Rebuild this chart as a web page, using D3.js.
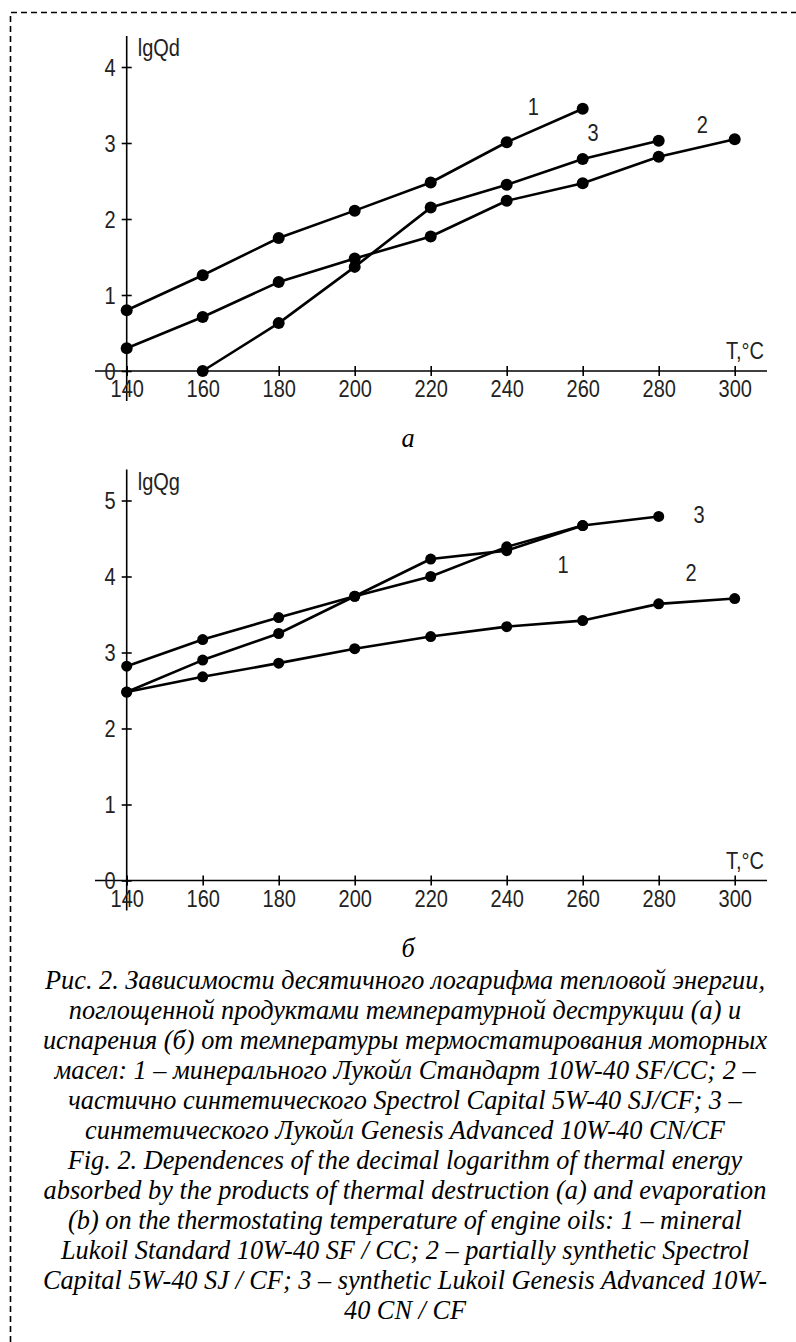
<!DOCTYPE html>
<html>
<head>
<meta charset="utf-8">
<script src="https://cdn.jsdelivr.net/npm/d3@7"></script>
<style>
body { margin: 0; background: #fff; }
.tick text, .lbl { font-family: "Liberation Sans", Arial, sans-serif; font-size: 20px; fill: #222; }
.cap { font-family: "Liberation Serif", "Times New Roman", serif; font-style: italic; font-size: 26.3px; fill: #000; }
</style>
</head>
<body>
<div id="chart"></div>
<script>
var width = 796;
var height = 1342;

// temperatures, deg C
var temps = [140, 160, 180, 200, 220, 240, 260, 280, 300];

// (a) lgQd - thermal destruction
var qd_mineral = [0.80, 1.26, 1.75, 2.11, 2.48, 3.01, 3.45];          // 140..260
var qd_semisynth = [0.30, 0.71, 1.17, 1.48, 1.77, 2.24, 2.47, 2.82, 3.05]; // 140..300
var qd_synth = [0.00, 0.63, 1.37, 2.15, 2.45, 2.79, 3.03];            // 160..280

// (b) lgQg - evaporation
var qg_mineral = [2.48, 2.90, 3.25, 3.74, 4.23, 4.34, 4.67];          // 140..260
var qg_semisynth = [2.48, 2.68, 2.86, 3.05, 3.21, 3.34, 3.42, 3.64, 3.71]; // 140..300
var qg_synth = [2.82, 3.17, 3.46, 3.74, 4.00, 4.39, 4.67, 4.79];      // 140..280

var xTicks = [140, 160, 180, 200, 220, 240, 260, 280, 300];
var yTicksA = [0, 1, 2, 3, 4];
var yTicksB = [0, 1, 2, 3, 4, 5];

// curve number labels, in data units [T, value, text]
var labelsA = [[247, 3.47, "1"], [291.5, 3.24, "2"], [262.7, 3.13, "3"]];
var labelsB = [[254.8, 4.15, "1"], [288.5, 4.05, "2"], [290.6, 4.81, "3"]];

var captionLines = [
  "Рис. 2. Зависимости десятичного логарифма тепловой энергии,",
  "поглощенной продуктами температурной деструкции (а) и",
  "испарения (б) от температуры термостатирования моторных",
  "масел: 1 – минерального Лукойл Стандарт 10W-40 SF/CC; 2 –",
  "частично синтетического Spectrol Capital 5W-40 SJ/CF; 3 –",
  "синтетического Лукойл Genesis Advanced 10W-40 CN/CF",
  "Fig. 2. Dependences of the decimal logarithm of thermal energy",
  "absorbed by the products of thermal destruction (a) and evaporation",
  "(b) on the thermostating temperature of engine oils: 1 – mineral",
  "Lukoil Standard 10W-40 SF / CC; 2 – partially synthetic Spectrol",
  "Capital 5W-40 SJ / CF; 3 – synthetic Lukoil Genesis Advanced 10W-",
  "40 CN / CF"
];

var stretch = 1.15; // screen font of the original is taller than Arial

var svg = d3.select("div#chart").append("svg")
  .attr("width", width)
  .attr("height", height);

// dashed frame (left + top edge only visible)
svg.append("path")
  .attr("d", "M10.5," + height + "V12.5H" + width)
  .attr("fill", "none")
  .attr("stroke", "#000")
  .attr("stroke-width", 1.6)
  .attr("stroke-dasharray", "6,4");

function series(vals, startT) {
  var i0 = temps.indexOf(startT);
  return vals.map(function(v, i) { return { t: temps[i0 + i], v: v }; });
}

function tallText(sel, x, y) {
  // draw text stretched vertically around its own baseline
  sel.attr("transform", "translate(" + x + "," + y + ") scale(1," + stretch + ")")
    .attr("x", 0).attr("y", 0);
}

function drawPanel(opt) {
  var x = d3.scaleLinear().domain([140, 300]).range([126.7, 734.7]);
  var y = d3.scaleLinear().domain([0, opt.ymax]).range([opt.y0, opt.y0 - 76 * opt.ymax]);
  var g = svg.append("g");

  // axis lines
  g.append("line")
    .attr("x1", 95).attr("x2", 767)
    .attr("y1", opt.y0).attr("y2", opt.y0)
    .attr("stroke", "#000").attr("stroke-width", 1.6);
  g.append("line")
    .attr("x1", x(140)).attr("x2", x(140))
    .attr("y1", y(opt.ymax) - 31).attr("y2", opt.y0 + 30)
    .attr("stroke", "#000").attr("stroke-width", 1.6);

  var gx = g.append("g")
    .attr("transform", "translate(0," + opt.y0 + ")")
    .call(d3.axisBottom(x).tickValues(xTicks).tickSize(5).tickFormat(d3.format("d")));
  gx.select(".domain").remove();
  gx.selectAll(".tick line").attr("y1", -5).attr("y2", 5).attr("stroke-width", 1.6);
  gx.selectAll(".tick text")
    .attr("font-size", null).attr("font-family", null).attr("fill", null)
    .attr("dy", null)
    .each(function() { tallText(d3.select(this), 0, 26); });

  var gy = g.append("g")
    .attr("transform", "translate(" + x(140) + ",0)")
    .call(d3.axisLeft(y).tickValues(opt.yticks).tickSize(5).tickFormat(d3.format("d")));
  gy.select(".domain").remove();
  gy.selectAll(".tick line").attr("x1", -5).attr("x2", 5).attr("stroke-width", 1.6);
  gy.selectAll(".tick text")
    .attr("font-size", null).attr("font-family", null).attr("fill", null)
    .attr("dy", null)
    .each(function() { tallText(d3.select(this), -11, 8); });

  tallText(g.append("text").attr("class", "lbl").text(opt.ylabel),
    x(140) + 11, y(opt.ymax) - 11);
  tallText(g.append("text").attr("class", "lbl").attr("text-anchor", "middle").text("T,°C"),
    745, opt.y0 - 12);

  var line = d3.line()
    .x(function(d) { return x(d.t); })
    .y(function(d) { return y(d.v); });

  opt.curves.forEach(function(c) {
    g.append("path")
      .datum(c)
      .attr("d", line)
      .attr("fill", "none")
      .attr("stroke", "#000")
      .attr("stroke-width", 2.6)
      .attr("stroke-linejoin", "round");
    g.selectAll(null)
      .data(c)
      .enter().append("circle")
      .attr("cx", function(d) { return x(d.t); })
      .attr("cy", function(d) { return y(d.v); })
      .attr("r", opt.r)
      .attr("fill", "#000");
  });

  g.selectAll(null)
    .data(opt.labels)
    .enter().append("text")
    .attr("class", "lbl")
    .attr("text-anchor", "middle")
    .text(function(d) { return d[2]; })
    .each(function(d) { tallText(d3.select(this), x(d[0]), y(d[1]) + 8); });

  svg.append("text").attr("class", "cap")
    .attr("x", 408).attr("y", opt.subY)
    .attr("text-anchor", "middle")
    .text(opt.sub);
}

drawPanel({
  y0: 371, ymax: 4, yticks: yTicksA, ylabel: "lgQd", r: 6,
  curves: [series(qd_mineral, 140), series(qd_semisynth, 140), series(qd_synth, 160)],
  labels: labelsA, sub: "а", subY: 447
});

drawPanel({
  y0: 880.5, ymax: 5, yticks: yTicksB, ylabel: "lgQg", r: 5.5,
  curves: [series(qg_mineral, 140), series(qg_semisynth, 140), series(qg_synth, 140)],
  labels: labelsB, sub: "б", subY: 957
});

svg.selectAll("text.capline")
  .data(captionLines)
  .enter().append("text")
  .attr("class", "cap capline")
  .attr("x", 405)
  .attr("y", function(d, i) { return 989 + i * 30; })
  .attr("text-anchor", "middle")
  .text(function(d) { return d; });
</script>
</body>
</html>
